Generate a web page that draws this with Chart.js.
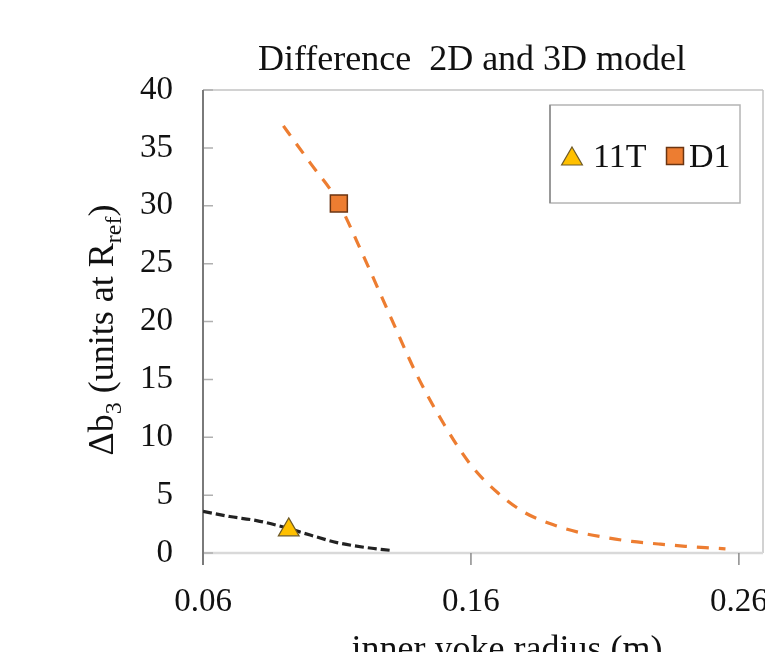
<!DOCTYPE html>
<html>
<head>
<meta charset="utf-8">
<script src="https://cdn.jsdelivr.net/npm/chart.js@4"></script>
<style>
  html, body { margin: 0; padding: 0; background: #fff; }
  #wrap { width: 765px; height: 652px; }
</style>
</head>
<body>
<div id="wrap"><canvas id="c" width="765" height="652"></canvas></div>
<script>
// series data
const xTicks = [0.06, 0.16, 0.26];
const yTicks = [0, 5, 10, 15, 20, 25, 30, 35, 40];

const curveD1X = [0.09, 0.10, 0.11, 0.12, 0.13, 0.14, 0.15, 0.16, 0.17, 0.18, 0.19, 0.20, 0.21, 0.22, 0.23, 0.24, 0.25, 0.255];
const curveD1Y = [36.9, 33.7, 30.5, 25.6, 20.4, 15.3, 11.1, 7.6, 5.2, 3.5, 2.5, 1.8, 1.35, 1.0, 0.78, 0.58, 0.43, 0.36];

const curve11TX = [0.06, 0.07, 0.08, 0.09, 0.10, 0.11, 0.12, 0.131];
const curve11TY = [3.6, 3.15, 2.8, 2.25, 1.55, 0.9, 0.5, 0.2];

const point11T = { x: 0.092, y: 2.0 };
const pointD1 = { x: 0.1107, y: 30.2 };

const SERIF = '"Liberation Serif", "Times New Roman", serif';

function pairs(xs, ys) { return xs.map((x, i) => ({ x, y: ys[i] })); }

// axis frame: inside ticks on y, outside ticks on x, top/right border
const framePlugin = {
  id: 'frame',
  beforeDatasetsDraw(chart) {
    const { ctx, chartArea: a, scales } = chart;
    ctx.save();
    ctx.lineWidth = 1.5;
    ctx.strokeStyle = '#c4c4c4';
    ctx.beginPath();
    ctx.moveTo(a.left, a.top); ctx.lineTo(a.right, a.top);
    ctx.moveTo(a.right, a.top); ctx.lineTo(a.right, a.bottom);
    ctx.stroke();

    ctx.lineWidth = 2.5;
    ctx.strokeStyle = '#d9d9d9';
    ctx.beginPath();
    ctx.moveTo(a.left, a.bottom); ctx.lineTo(a.right, a.bottom);
    ctx.stroke();

    ctx.lineWidth = 1.5;
    ctx.strokeStyle = '#8c8c8c';
    ctx.beginPath();
    xTicks.forEach(v => {
      const px = scales.x.getPixelForValue(v);
      ctx.moveTo(px, a.bottom); ctx.lineTo(px, a.bottom + 12);
    });
    ctx.stroke();

    ctx.strokeStyle = '#b0b0b0';
    ctx.beginPath();
    yTicks.forEach(v => {
      const py = scales.y.getPixelForValue(v);
      ctx.moveTo(a.left, py); ctx.lineTo(a.left + 10, py);
    });
    ctx.stroke();

    ctx.lineWidth = 2;
    ctx.strokeStyle = '#7a7a7a';
    ctx.beginPath();
    ctx.moveTo(a.left, a.top); ctx.lineTo(a.left, a.bottom + 12);
    ctx.stroke();
    ctx.restore();
  }
};

// titles (with subscripts) and boxed legend
const textPlugin = {
  id: 'texts',
  afterDraw(chart) {
    const { ctx } = chart;
    ctx.save();
    ctx.fillStyle = '#111';
    ctx.textBaseline = 'alphabetic';

    ctx.font = '36px ' + SERIF;
    ctx.textAlign = 'center';
    ctx.fillText('Difference  2D and 3D model', 472, 70);
    ctx.fillText('inner yoke radius (m)', 507, 660);

    // y title, rotated, built from runs so subscripts can drop
    const runs = [
      { t: '\u0394b', sub: false },
      { t: '3', sub: true },
      { t: ' (units at R', sub: false },
      { t: 'ref', sub: true },
      { t: ')', sub: false }
    ];
    const big = '36px ' + SERIF, small = '24px ' + SERIF;
    let total = 0;
    runs.forEach(r => { ctx.font = r.sub ? small : big; r.w = ctx.measureText(r.t).width; total += r.w; });
    ctx.translate(113, 330);
    ctx.rotate(-Math.PI / 2);
    ctx.textAlign = 'left';
    let x = -total / 2;
    runs.forEach(r => {
      ctx.font = r.sub ? small : big;
      ctx.fillText(r.t, x, r.sub ? 8 : 0);
      x += r.w;
    });
    ctx.setTransform(1, 0, 0, 1, 0, 0);

    // legend box
    ctx.lineWidth = 1.5;
    ctx.strokeStyle = '#b4b4b4';
    ctx.strokeRect(550, 105, 190, 98);
    ctx.strokeStyle = '#8a8a8a';
    ctx.beginPath(); ctx.moveTo(550, 105); ctx.lineTo(550, 203); ctx.stroke();

    const items = [
      { ds: chart.data.datasets[0], mx: 572, my: 159, tx: 593 },
      { ds: chart.data.datasets[1], mx: 675, my: 156, tx: 689 }
    ];
    ctx.font = '34px ' + SERIF;
    items.forEach(it => {
      ctx.fillStyle = it.ds.backgroundColor;
      ctx.strokeStyle = it.ds.borderColor;
      ctx.lineWidth = it.ds.borderWidth;
      Chart.helpers.drawPoint(ctx, {
        pointStyle: it.ds.pointStyle, radius: it.ds.pointRadius, rotation: 0, borderWidth: it.ds.borderWidth
      }, it.mx, it.my);
      ctx.fillStyle = '#111';
      ctx.textAlign = 'left';
      ctx.fillText(it.ds.label, it.tx, 167);
    });
    ctx.restore();
  }
};

new Chart(document.getElementById('c'), {
  type: 'scatter',
  data: {
    datasets: [
      {
        label: '11T', data: [point11T], pointStyle: 'triangle', pointRadius: 12,
        backgroundColor: '#FFC000', borderColor: '#6e5a28', borderWidth: 1.2, showLine: false
      },
      {
        label: 'D1', data: [pointD1], pointStyle: 'rect', pointRadius: 12,
        backgroundColor: '#ED7D31', borderColor: '#6b3512', borderWidth: 1.5, showLine: false
      },
      {
        label: '11T curve', data: pairs(curve11TX, curve11TY), showLine: true,
        borderColor: '#222', borderWidth: 3.2, borderDash: [9, 4], pointRadius: 0,
        cubicInterpolationMode: 'monotone', fill: false
      },
      {
        label: 'D1 curve', data: pairs(curveD1X, curveD1Y), showLine: true,
        borderColor: '#ED7D31', borderWidth: 3.2, borderDash: [12, 10], pointRadius: 0,
        cubicInterpolationMode: 'monotone', fill: false
      }
    ]
  },
  options: {
    responsive: false,
    animation: false,
    layout: { autoPadding: false, padding: { top: 90, right: 2, left: 0, bottom: 0 } },
    plugins: { legend: { display: false }, tooltip: { enabled: false }, title: { display: false } },
    scales: {
      x: {
        type: 'linear', min: 0.06, max: 0.269,
        grid: { display: false }, border: { display: false },
        afterBuildTicks: s => { s.ticks = xTicks.map(v => ({ value: v })); },
        afterFit: s => { s.height = 99; s.paddingLeft = 0; s.paddingRight = 0; },
        ticks: {
          padding: 22, maxRotation: 0, autoSkip: false, color: '#111',
          font: { family: SERIF, size: 33 },
          callback: v => v.toFixed(2)
        }
      },
      y: {
        type: 'linear', min: 0, max: 40,
        grid: { display: false }, border: { display: false },
        afterBuildTicks: s => { s.ticks = yTicks.map(v => ({ value: v })); },
        afterFit: s => { s.width = 203; s.paddingTop = 0; s.paddingBottom = 0; },
        ticks: {
          padding: 22, color: '#111',
          font: { family: SERIF, size: 33 },
          callback: v => String(v)
        }
      }
    }
  },
  plugins: [framePlugin, textPlugin]
});
</script>
</body>
</html>
